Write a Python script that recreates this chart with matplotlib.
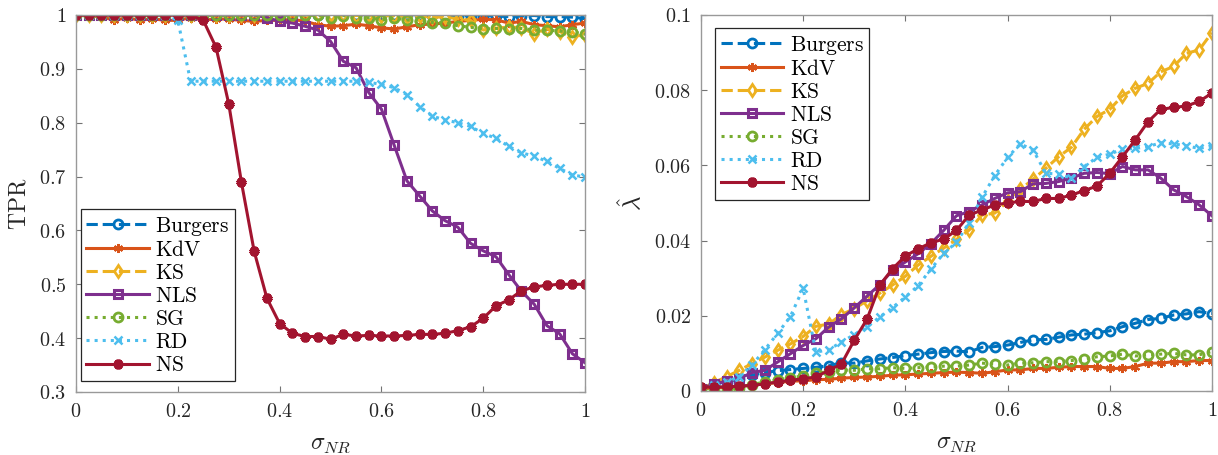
import numpy as np
import matplotlib
matplotlib.use("Agg")
import matplotlib.pyplot as plt

plt.rcParams["mathtext.fontset"] = "cm"
plt.rcParams["font.family"] = ["DejaVu Serif"]

# noise levels
sigma = np.arange(41) * 0.025

names = ["Burgers", "KdV", "KS", "NLS", "SG", "RD", "NS"]

# TPR (left panel)
tpr_burgers = [1.0] * 29 + [0.999, 0.998, 0.999, 0.999, 0.998, 0.997, 0.998, 0.999, 0.997, 0.997, 0.996, 0.993]
tpr_kdv = [1.0, 0.998, 0.997, 0.990, 0.995, 0.990, 0.993, 0.990, 0.990, 0.995, 0.990, 0.993, 0.992,
           0.990, 0.988, 0.990, 0.990, 0.992, 0.988, 0.982, 0.979, 0.980, 0.983, 0.980, 0.976, 0.974,
           0.978, 0.982, 0.983, 0.985, 0.988, 0.990, 0.992, 0.991, 0.985, 0.988, 0.982, 0.980, 0.978,
           0.982, 0.985]
tpr_ks = [1.0] * 22 + [0.999, 1.0, 0.998, 0.999, 0.997, 0.998, 0.996, 0.996, 0.993, 0.990, 0.972,
                       0.975, 0.978, 0.976, 0.965, 0.974, 0.969, 0.960, 0.963]
tpr_nls = [1.0] * 15 + [0.995, 0.988, 0.985, 0.979, 0.972, 0.951, 0.914, 0.902, 0.856, 0.825, 0.758,
                        0.692, 0.664, 0.636, 0.618, 0.606, 0.576, 0.562, 0.551, 0.518, 0.487, 0.463,
                        0.423, 0.408, 0.371, 0.354]
tpr_sg = [1.0] * 20 + [0.994, 0.999, 0.994, 0.995, 0.991, 0.994, 0.991, 0.988, 0.986, 0.985, 0.980,
                       0.977, 0.974, 0.975, 0.974, 0.975, 0.972, 0.972, 0.970, 0.969, 0.964]
tpr_rd = [1.0] * 8 + [0.99] + [0.877] * 14 + [0.875, 0.871, 0.865, 0.852, 0.830, 0.812, 0.805, 0.800,
                                             0.793, 0.780, 0.771, 0.756, 0.744, 0.738, 0.728, 0.715,
                                             0.703, 0.699]
tpr_ns = [1.0] * 10 + [0.990, 0.940, 0.835, 0.689, 0.561, 0.474, 0.427, 0.409, 0.403, 0.403, 0.398,
                       0.407, 0.404, 0.405, 0.404, 0.404, 0.405, 0.407, 0.407, 0.409, 0.414, 0.421,
                       0.437, 0.460, 0.471, 0.488, 0.495, 0.498, 0.500, 0.500, 0.500]

# lambda hat (right panel)
lam_burgers = [0.0008, 0.0018, 0.0025, 0.0032, 0.0042, 0.0049, 0.0054, 0.0057, 0.0060, 0.0063, 0.0067,
               0.0075, 0.0074, 0.0080, 0.0085, 0.0089, 0.0094, 0.0098, 0.0102, 0.0105, 0.0106, 0.0104,
               0.0116, 0.0118, 0.0122, 0.0129, 0.0136, 0.0137, 0.0143, 0.0149, 0.0151, 0.0155, 0.0160,
               0.0171, 0.0180, 0.0190, 0.0193, 0.0202, 0.0205, 0.0211, 0.0206]
lam_kdv = [0.0006, 0.0008, 0.0010, 0.0012, 0.0015, 0.0019, 0.0022, 0.0026, 0.0027, 0.0030, 0.0031,
           0.0034, 0.0036, 0.0037, 0.0039, 0.0042, 0.0043, 0.0045, 0.0047, 0.0049, 0.0050, 0.0049,
           0.0047, 0.0051, 0.0056, 0.0056, 0.0060, 0.0060, 0.0063, 0.0065, 0.0065, 0.0065, 0.0060,
           0.0060, 0.0065, 0.0074, 0.0074, 0.0078, 0.0078, 0.0081, 0.0081]
lam_ks = [0.0005, 0.0022, 0.0038, 0.0055, 0.0073, 0.0090, 0.0108, 0.0125, 0.0145, 0.0172, 0.0178,
          0.0203, 0.0219, 0.0240, 0.0260, 0.0282, 0.0305, 0.0335, 0.0358, 0.0380, 0.0403, 0.0428,
          0.0468, 0.0473, 0.0504, 0.0536, 0.0563, 0.0592, 0.0623, 0.0648, 0.0696, 0.0730, 0.0749,
          0.0785, 0.0805, 0.0818, 0.0849, 0.0863, 0.0898, 0.0907, 0.0953]
lam_nls = [0.0005, 0.0019, 0.0026, 0.0033, 0.0049, 0.0055, 0.0077, 0.0099, 0.0121, 0.0139, 0.0170,
           0.0192, 0.0221, 0.0252, 0.0283, 0.0321, 0.0343, 0.0365, 0.0392, 0.0427, 0.0466, 0.0477,
           0.0495, 0.0512, 0.0527, 0.0530, 0.0551, 0.0552, 0.0557, 0.0566, 0.0579, 0.0581, 0.0578,
           0.0597, 0.0588, 0.0588, 0.0566, 0.0535, 0.0517, 0.0495, 0.0466]
lam_sg = [0.0, 0.0, 0.0002, 0.0008, 0.0017, 0.0024, 0.0030, 0.0035, 0.0040, 0.0048, 0.0051, 0.0056,
          0.0055, 0.0059, 0.0059, 0.0062, 0.0060, 0.0062, 0.0064, 0.0066, 0.0066, 0.0069, 0.0074,
          0.0072, 0.0069, 0.0074, 0.0075, 0.0078, 0.0078, 0.0081, 0.0084, 0.0091, 0.0093, 0.0098,
          0.0093, 0.0096, 0.0098, 0.0100, 0.0096, 0.0096, 0.0105]
lam_rd = [0.0008, 0.0015, 0.0024, 0.0038, 0.0069, 0.0110, 0.0153, 0.0198, 0.0273, 0.0103, 0.0110,
          0.0130, 0.0150, 0.0170, 0.0197, 0.0222, 0.0250, 0.0280, 0.0324, 0.0366, 0.0395, 0.0448,
          0.0515, 0.0573, 0.0621, 0.0657, 0.0641, 0.0579, 0.0577, 0.0566, 0.0597, 0.0621, 0.0630,
          0.0643, 0.0645, 0.0650, 0.0660, 0.0657, 0.0652, 0.0645, 0.0652]
lam_ns = [0.0011, 0.0011, 0.0011, 0.0013, 0.0015, 0.0019, 0.0024, 0.0028, 0.0033, 0.0037, 0.0055,
          0.0072, 0.0135, 0.0191, 0.0281, 0.0325, 0.0359, 0.0378, 0.0394, 0.0404, 0.0427, 0.0468,
          0.0481, 0.0495, 0.0500, 0.0504, 0.0504, 0.0512, 0.0512, 0.0521, 0.0533, 0.0545, 0.0579,
          0.0623, 0.0668, 0.0716, 0.0749, 0.0754, 0.0758, 0.0770, 0.0792]

tpr = [tpr_burgers, tpr_kdv, tpr_ks, tpr_nls, tpr_sg, tpr_rd, tpr_ns]
lam = [lam_burgers, lam_kdv, lam_ks, lam_nls, lam_sg, lam_rd, lam_ns]

# matlab-ish line styles
styles = [
    dict(color="#0072BD", ls="--", marker="o", mfc="none", ms=6.5, mew=2.0),
    dict(color="#D95319", ls="-", marker=(6, 2, 0), ms=6.5, mew=1.5),
    dict(color="#EDB120", ls="--", marker="d", mfc="none", ms=6, mew=2.0),
    dict(color="#7E2F8E", ls="-", marker="s", mfc="none", ms=6, mew=2.2),
    dict(color="#77AC30", ls=":", marker="o", mfc="none", ms=6.5, mew=2.0),
    dict(color="#4DBEEE", ls=":", marker="x", ms=6, mew=1.8),
    dict(color="#A2142F", ls="-", marker=(6, 2, 0), ms=7, mew=3.0),
]

fig = plt.figure(figsize=(12.18, 4.55), dpi=100)
ax1 = fig.add_axes([0.0624, 0.1385, 0.418, 0.8286])
ax2 = fig.add_axes([0.5755, 0.1407, 0.4195, 0.8264])

for ys, st, nm in zip(tpr, styles, names):
    ax1.plot(sigma, ys, lw=2.2, label=r"$\mathrm{%s}$" % nm, **st)
for ys, st, nm in zip(lam, styles, names):
    ax2.plot(sigma, ys, lw=2.2, label=r"$\mathrm{%s}$" % nm, **st)

xt = [0, 0.2, 0.4, 0.6, 0.8, 1]
xtl = ["$0$", "$0.2$", "$0.4$", "$0.6$", "$0.8$", "$1$"]
ax1.set_xlim(0, 1)
ax1.set_ylim(0.3, 1)
ax1.set_yticks([0.3, 0.4, 0.5, 0.6, 0.7, 0.8, 0.9, 1.0])
ax1.set_yticklabels(["$0.3$", "$0.4$", "$0.5$", "$0.6$", "$0.7$", "$0.8$", "$0.9$", "$1$"])
ax2.set_xlim(0, 1)
ax2.set_ylim(0, 0.1)
ax2.set_yticks([0, 0.02, 0.04, 0.06, 0.08, 0.1])
ax2.set_yticklabels(["$0$", "$0.02$", "$0.04$", "$0.06$", "$0.08$", "$0.1$"])

for ax in (ax1, ax2):
    ax.set_xticks(xt)
    ax.set_xticklabels(xtl)
    ax.tick_params(direction="in", top=True, right=True, length=4, width=0.8,
                   color="0.45", labelsize=14.5, labelcolor="0.15", pad=7)
    for s in ax.spines.values():
        s.set_color("0.6")
        s.set_linewidth(1.0)
    ax.set_xlabel(r"$\sigma_{NR}$", fontsize=17, color="0.15", labelpad=8)

ax1.set_ylabel(r"$\mathrm{TPR}$", fontsize=17, color="0.15", labelpad=6)
ax2.set_ylabel(r"$\hat{\lambda}$", fontsize=18, color="0.15", labelpad=6)

leg_kw = dict(fontsize=15.5, handlelength=2.9, handletextpad=0.3, labelspacing=0.05,
              borderpad=0.25, fancybox=False, framealpha=1, edgecolor="0.15", borderaxespad=0)
l1 = ax1.legend(loc="lower left", bbox_to_anchor=(0.01, 0.028), **leg_kw)
l2 = ax2.legend(loc="upper left", bbox_to_anchor=(0.028, 0.965), **leg_kw)
for lg in (l1, l2):
    lg.get_frame().set_linewidth(0.9)

fig.savefig("out.png", dpi=100)
